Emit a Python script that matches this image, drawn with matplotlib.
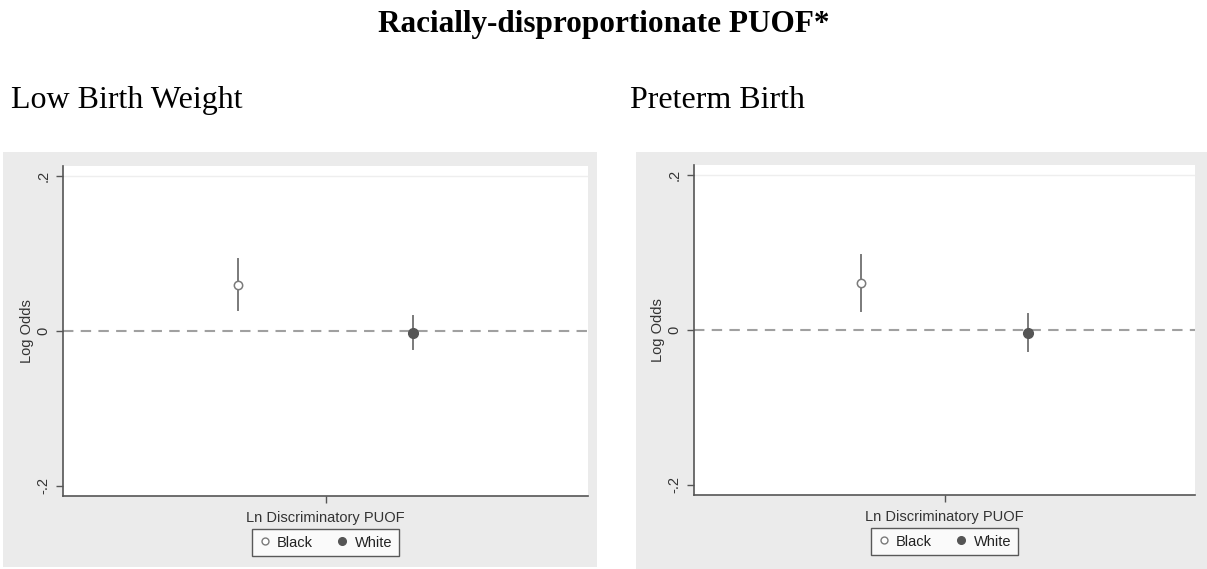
import matplotlib
matplotlib.use("Agg")
import matplotlib.pyplot as plt
from matplotlib.lines import Line2D

# Coefficients (log odds) with 95% CI, per outcome
panels = ["Low Birth Weight", "Preterm Birth"]
groups = ["Black", "White"]
coef = {
    "Low Birth Weight": [0.059, -0.003],
    "Preterm Birth": [0.061, -0.004],
}
ci_low = {
    "Low Birth Weight": [0.027, -0.023],
    "Preterm Birth": [0.025, -0.027],
}
ci_high = {
    "Low Birth Weight": [0.093, 0.019],
    "Preterm Birth": [0.097, 0.021],
}
yticks = [-0.2, 0, 0.2]
ytick_labels = ["-.2", "0", ".2"]
xlabel = "Ln Discriminatory PUOF"
title = "Racially-disproportionate PUOF*"

W, H = 1207, 569
fig = plt.figure(figsize=(W / 100, H / 100), dpi=100)
fig.patch.set_facecolor("white")


def px_box(x0, y0, x1, y1):
    # pixel box (top-left origin) -> figure fraction rect
    return [x0 / W, 1 - y1 / H, (x1 - x0) / W, (y1 - y0) / H]


sans = ["Liberation Sans", "DejaVu Sans"]
serif = ["Liberation Serif", "DejaVu Serif"]
line_col = "#7a7a7a"
point_col = "#555555"

fig.text(0.5, 1 - 32 / H, title, ha="center", va="baseline",
         fontsize=22.5, fontweight="bold", family=serif)

bg_boxes = [(3, 152, 597, 567), (636, 152, 1207, 569)]
plot_boxes = [(63, 166, 588, 496), (694, 165, 1195, 495)]
label_x = [11, 630]

for name, bg, pb, lx in zip(panels, bg_boxes, plot_boxes, label_x):
    fig.text(lx / W, 1 - 108 / H, name, ha="left", va="baseline",
             fontsize=23, family=serif)

    bg_ax = fig.add_axes(px_box(*bg))
    bg_ax.set_facecolor("#ebebeb")
    bg_ax.set_xticks([])
    bg_ax.set_yticks([])
    for s in bg_ax.spines.values():
        s.set_visible(False)

    ax = fig.add_axes(px_box(*pb))
    ax.set_facecolor("white")
    ax.set_xlim(0, 3)
    ax.set_ylim(-0.213, 0.213)

    ax.axhline(0.2, color="#eeeeee", lw=1, zorder=0)
    ax.axhline(0, color="#a0a0a0", lw=1.5, ls=(0, (5, 3.5)), zorder=1)

    xs = [1, 2]
    for i, g in enumerate(groups):
        ax.plot([xs[i], xs[i]], [ci_low[name][i], ci_high[name][i]],
                color=line_col, lw=1.4, zorder=2)
    ax.plot(xs[0], coef[name][0], "o", ms=6, mfc="white", mec=line_col,
            mew=1.1, zorder=3)
    ax.plot(xs[1], coef[name][1], "o", ms=7, mfc=point_col, mec=point_col,
            zorder=3)

    for side in ["top", "right"]:
        ax.spines[side].set_visible(False)
    for side in ["left", "bottom"]:
        ax.spines[side].set_color("#555555")
        ax.spines[side].set_linewidth(1.2)

    ax.set_yticks(yticks)
    ax.set_yticklabels(ytick_labels, rotation=90, va="center",
                       fontsize=10.5, family=sans, color="#333333")
    ax.set_xticks([1.5])
    ax.set_xticklabels([])
    ax.tick_params(length=5, width=1, color="#555555", pad=4)
    ax.set_ylabel("Log Odds", fontsize=10.5, family=sans, color="#333333",
                  labelpad=2)
    ax.set_xlabel(xlabel, fontsize=10.5, family=sans, color="#333333",
                  labelpad=1.5)

    handles = [
        Line2D([], [], ls="none", marker="o", ms=5, mfc="white",
               mec=line_col, mew=1),
        Line2D([], [], ls="none", marker="o", ms=5.5, mfc=point_col,
               mec=point_col),
    ]
    leg = ax.legend(handles, groups, loc="upper center", ncol=2,
                    bbox_to_anchor=(0.5, -33 / (pb[3] - pb[1])),
                    borderaxespad=0,
                    fancybox=False, frameon=True, handlelength=0.8,
                    handletextpad=0.45, columnspacing=1.6, borderpad=0.45,
                    prop={"family": sans, "size": 10.5})
    leg.get_frame().set_edgecolor("#333333")
    leg.get_frame().set_linewidth(1)
    for t in leg.get_texts():
        t.set_color("#222222")

fig.savefig("out.png", dpi=100)
